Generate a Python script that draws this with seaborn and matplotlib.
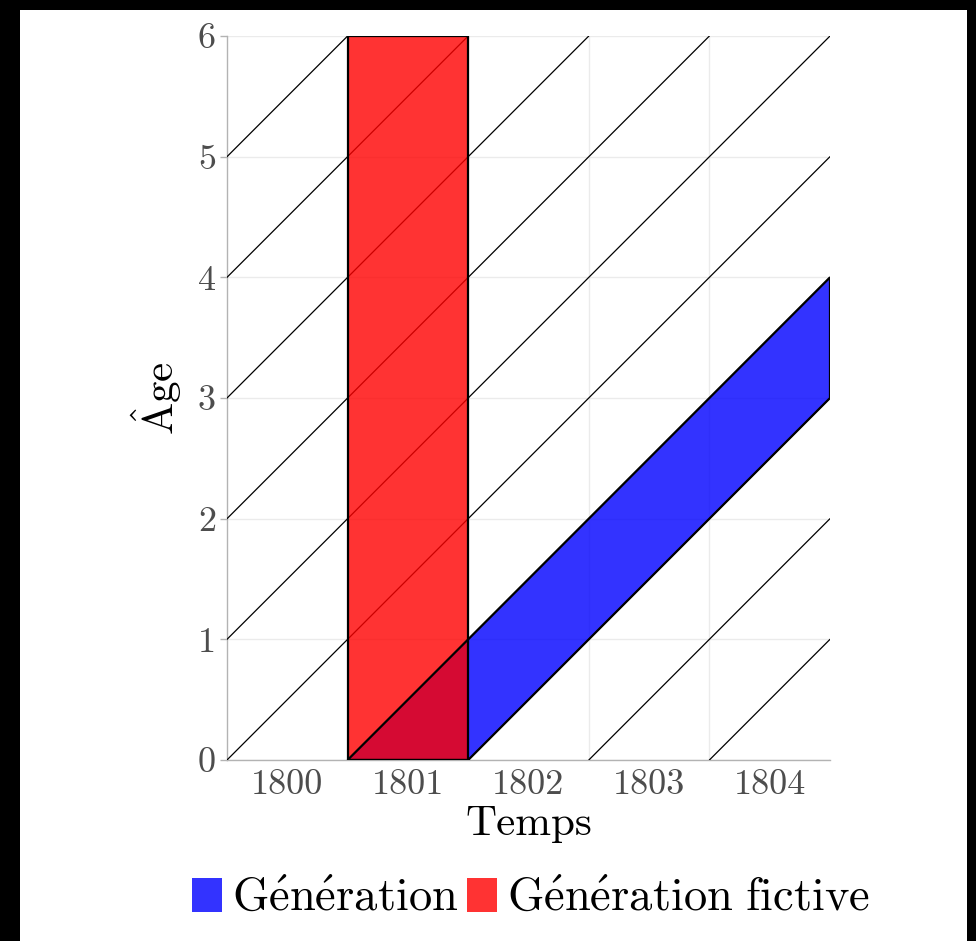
import matplotlib
matplotlib.use("Agg")
import matplotlib.pyplot as plt
from matplotlib.patches import Patch, Rectangle
import numpy as np
import pandas as pd
import seaborn as sns

# Données du diagramme de Lexis
years = [1800, 1801, 1802, 1803, 1804]
ages = [0, 1, 2, 3, 4, 5, 6]
generation_year = 1801        # génération née en 1801
fictive_year = 1801           # génération fictive (période 1801)
legend_labels = [r"$\mathrm{G\acute{e}n\acute{e}ration}$",
                 r"$\mathrm{G\acute{e}n\acute{e}ration\ fictive}$"]

x_min, x_max = years[0] - 0.5, years[-1] + 0.5
a_max = ages[-1]

# Lignes de vie (diagonales) : une par borne d'année, découpées au cadre
rows = []
for b in np.arange(x_min - a_max, x_max):
    x0 = max(b, x_min)
    x1 = min(b + a_max, x_max)
    rows.append({"id": b, "x": x0, "age": x0 - b})
    rows.append({"id": b, "x": x1, "age": x1 - b})
lifelines = pd.DataFrame(rows)

sns.set_theme(style="white")
plt.rcParams["font.family"] = "serif"
plt.rcParams["font.serif"] = ["cmr10", "DejaVu Serif"]
plt.rcParams["mathtext.fontset"] = "cm"
plt.rcParams["axes.unicode_minus"] = False

fig = plt.figure(figsize=(9.76, 9.41), dpi=100, facecolor="black")
fig.patches.append(Rectangle((20 / 976, 0), 947 / 976, 931 / 941,
                             transform=fig.transFigure, facecolor="white",
                             edgecolor="none", zorder=-10))
ax = fig.add_axes([227 / 976, (941 - 760) / 941, 603 / 976, 724 / 941])
ax.set_facecolor("white")

sns.lineplot(data=lifelines, x="x", y="age", units="id", estimator=None,
             color="black", linewidth=0.9, ax=ax, zorder=2, legend=False)

# Génération (cohorte) : bande diagonale
g0, g1 = generation_year - 0.5, generation_year + 0.5
gen_poly = np.array([[g0, 0], [g1, 0], [x_max, x_max - g1], [x_max, x_max - g0]])
# Génération fictive : bande verticale
f0, f1 = fictive_year - 0.5, fictive_year + 0.5
fic_poly = np.array([[f0, 0], [f1, 0], [f1, a_max], [f0, a_max]])

ax.fill(gen_poly[:, 0], gen_poly[:, 1], facecolor=(0, 0, 1, 0.8),
        edgecolor="none", zorder=3)
ax.fill(fic_poly[:, 0], fic_poly[:, 1], facecolor=(1, 0, 0, 0.8),
        edgecolor="none", zorder=4)
ax.fill(gen_poly[:, 0], gen_poly[:, 1], fill=False, edgecolor="black",
        linewidth=1.6, zorder=5)
ax.fill(fic_poly[:, 0], fic_poly[:, 1], fill=False, edgecolor="black",
        linewidth=1.6, zorder=5)

ax.set_xlim(x_min, x_max)
ax.set_ylim(0, a_max)
ax.set_xticks(years)
ax.set_xticklabels([str(y) for y in years])
ax.set_xticks(np.array(years[:-1]) + 0.5, minor=True)
ax.set_yticks(ages)
ax.set_yticklabels([str(a) for a in ages])

ax.grid(True, which="major", axis="y", color="#ebebeb", linewidth=1)
ax.grid(True, which="minor", axis="x", color="#ebebeb", linewidth=1)
ax.grid(False, which="major", axis="x")
ax.set_axisbelow(True)

for s in ["top", "right"]:
    ax.spines[s].set_visible(False)
for s in ["left", "bottom"]:
    ax.spines[s].set_color("#b3b3b3")
    ax.spines[s].set_linewidth(1.0)
    ax.spines[s].set_zorder(1)

ax.tick_params(axis="x", which="both", length=0, pad=7, labelsize=26,
               labelcolor="#4d4d4d")
ax.tick_params(axis="y", which="major", length=5, width=1, color="#b3b3b3",
               pad=3, labelsize=26, labelcolor="#4d4d4d", left=True)

ax.set_xlabel("Temps", fontsize=31, color="black", labelpad=3)
ax.set_ylabel(r"$\mathrm{\hat{A}ge}$", fontsize=31, color="black", labelpad=10)

handles = [Patch(facecolor=(0, 0, 1, 0.8), edgecolor="none"),
           Patch(facecolor=(1, 0, 0, 0.8), edgecolor="none")]
ax.legend(handles, legend_labels, loc="center", ncol=2,
          bbox_to_anchor=(531 / 976, 0.045), bbox_transform=fig.transFigure,
          frameon=False, fontsize=33.5, handlelength=0.65, handleheight=0.75,
          handletextpad=0.2, columnspacing=0.2, borderpad=0,
          labelcolor="black")

fig.savefig("out.png", dpi=100, facecolor=fig.get_facecolor())
